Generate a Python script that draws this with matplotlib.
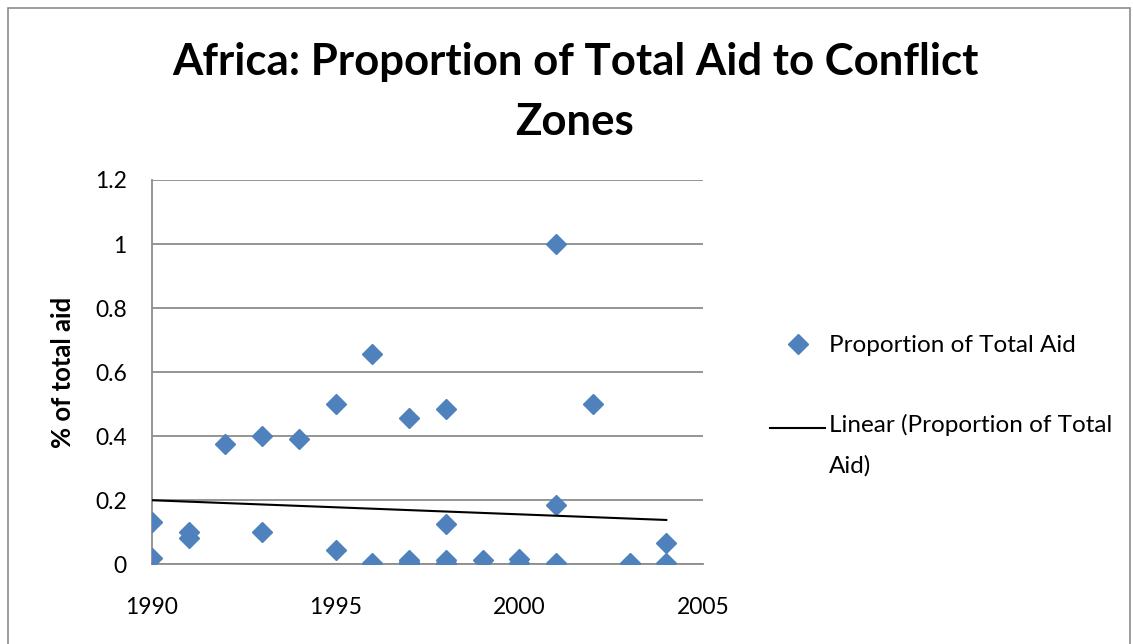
import numpy as np
import matplotlib.pyplot as plt
from matplotlib.patches import Rectangle

plt.rcParams['font.family'] = ['Lato', 'DejaVu Sans']

# one entry per observation (several years have overlapping points near zero)
years = [1990, 1990, 1991, 1991, 1992, 1993, 1993, 1994, 1995, 1995,
         1996, 1996, 1996, 1997, 1997, 1997, 1997, 1998, 1998, 1998, 1998, 1998,
         1999, 2000, 2000, 2001, 2001, 2001, 2001, 2002, 2003, 2003, 2004, 2004]
share = [0.13, 0.02, 0.10, 0.08, 0.375, 0.40, 0.10, 0.39, 0.50, 0.045,
         0.655, 0.003, 0.0, 0.455, 0.012, 0.005, 0.0, 0.485, 0.125, 0.012, 0.002, 0.0,
         0.012, 0.015, 0.002, 1.0, 0.185, 0.002, 0.0, 0.50, 0.002, 0.0, 0.065, 0.002]

x = np.array(years, dtype=float)
y = np.array(share)

# linear trend
b, a = np.polyfit(x, y, 1)
xt = np.array([x.min(), x.max()])
yt = a + b * xt

fig = plt.figure(figsize=(11.33, 6.44), dpi=100)
ax = fig.add_axes([0.134, 0.1242, 0.4865, 0.5963])

pts, = ax.plot(x, y, linestyle='none', marker='D', ms=10, color='#4F81BD',
               label='Proportion of Total Aid', zorder=3)
trend, = ax.plot(xt, yt, color='black', lw=1.5,
                 label='Linear (Proportion of Total\nAid)', zorder=4)

ax.set_xlim(1990, 2005)
ax.set_ylim(0, 1.2)
ax.set_xticks([1990, 1995, 2000, 2005])
ax.set_yticks(np.arange(0, 1.21, 0.2))
ax.set_yticklabels(['0', '0.2', '0.4', '0.6', '0.8', '1', '1.2'])
ax.yaxis.grid(True, color='#8c8c8c', lw=1.3)
ax.set_axisbelow(True)
for s in ['top', 'right']:
    ax.spines[s].set_visible(False)
for s in ['left', 'bottom']:
    ax.spines[s].set_color('#8c8c8c')
    ax.spines[s].set_linewidth(1.3)
ax.tick_params(axis='both', labelsize=16.5, length=0)
ax.tick_params(axis='x', pad=24)
ax.tick_params(axis='y', pad=18)
ax.set_ylabel('% of total aid', fontsize=18.5, fontweight='bold')
ax.yaxis.set_label_coords(-0.14, 0.5)

fig.text(0.5075, 0.857, 'Africa: Proportion of Total Aid to Conflict\nZones',
         ha='center', va='center', fontsize=31.5, fontweight='bold', linespacing=1.6)

leg = fig.legend(handles=[pts, trend], loc='upper left', bbox_to_anchor=(0.669, 0.498),
                 frameon=False, fontsize=17.5, borderpad=0, handlelength=2.26,
                 handletextpad=0.15, labelspacing=2.35, numpoints=1)
leg.get_texts()[1].set_linespacing(2.1)
# put the trend-line key level with the first line of its two-line label
key = leg.legend_handles[1]
key.set_ydata(np.asarray(key.get_ydata()) + 12.2)

fig.patches.append(Rectangle((8 / 1133, -0.01), 1122 / 1133, 1 - 8 / 644 + 0.01,
                             transform=fig.transFigure, fill=False,
                             edgecolor='#8c8c8c', lw=1.2))

fig.savefig('out.png', dpi=100)
